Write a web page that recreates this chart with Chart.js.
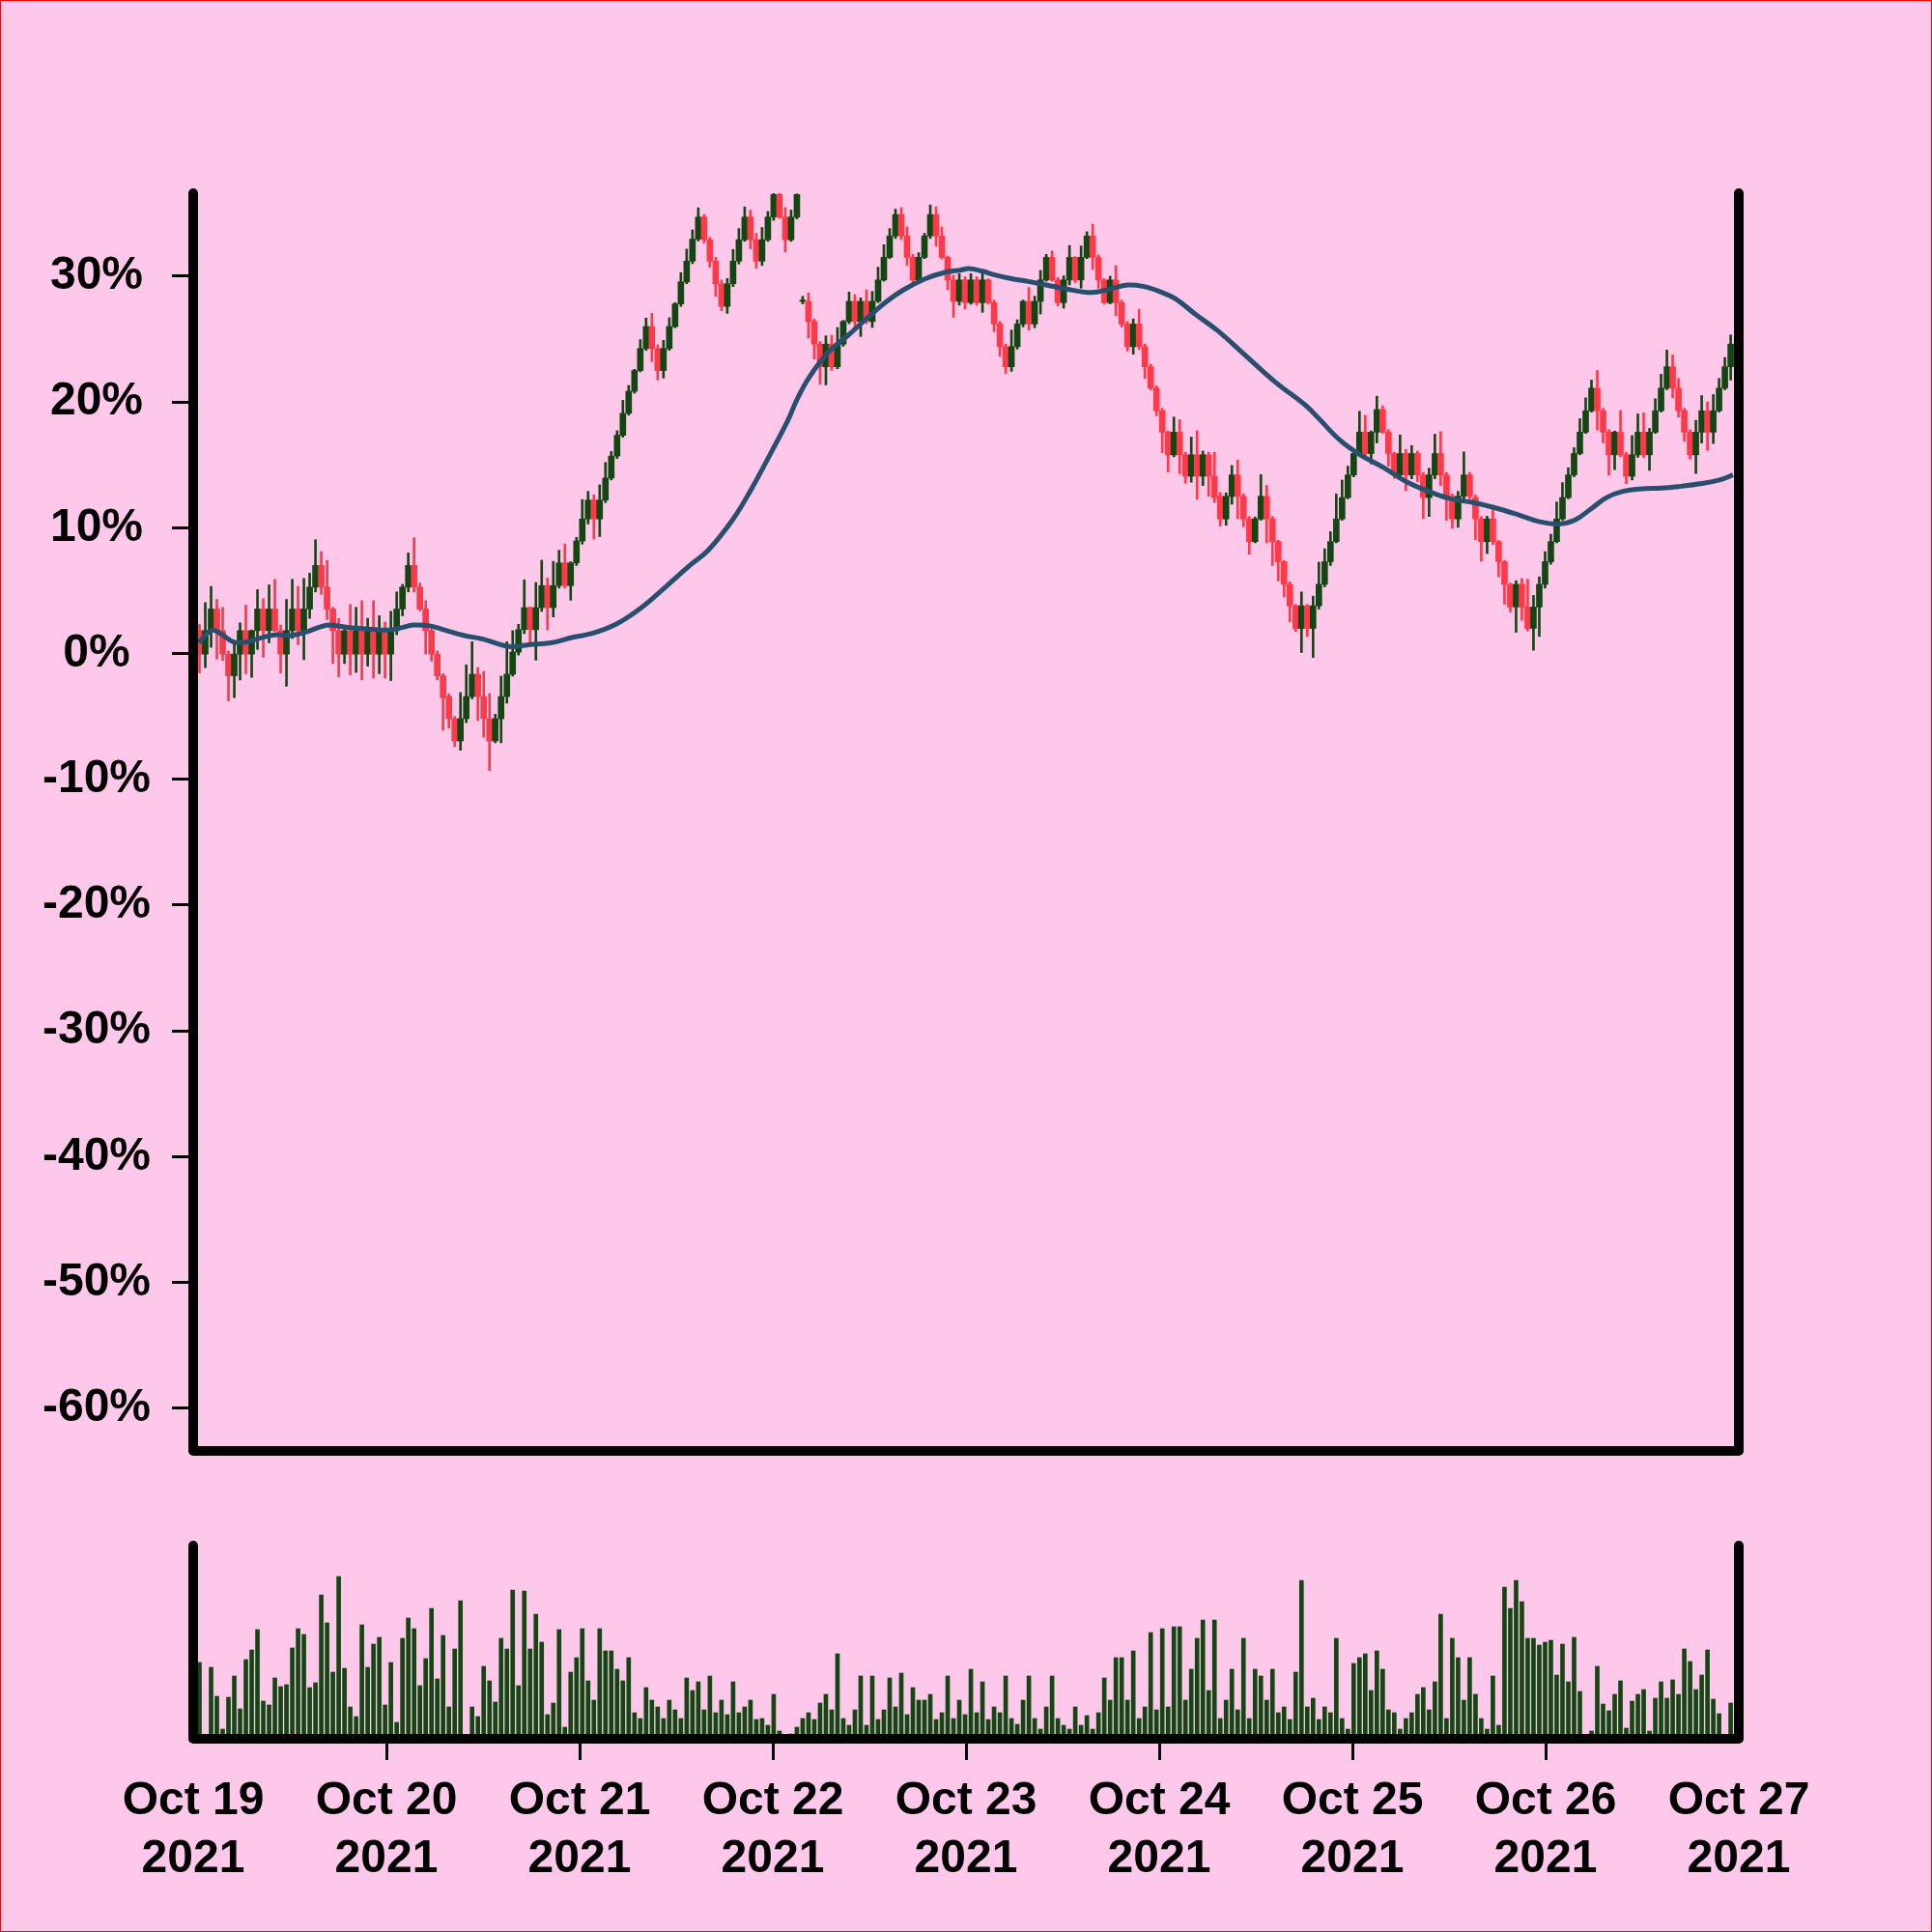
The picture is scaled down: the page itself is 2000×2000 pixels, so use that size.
<!DOCTYPE html>
<html>
<head>
<meta charset="utf-8">
<script src="https://cdn.jsdelivr.net/npm/chart.js@4.4.0/dist/chart.umd.min.js"></script>
<style>
  html, body { margin: 0; padding: 0; background: #fdc8e9; }
  #frame { position: relative; width: 2000px; height: 2000px; background: #fdc8e9; overflow: hidden; }
  #frame canvas { position: absolute; left: 0; }
  #price { top: 0; }
  #volume { top: 1560px; }
  #edge { position: absolute; left: 0; top: 0; width: 2000px; height: 2000px; box-sizing: border-box; border: 1px solid #ff0000; pointer-events: none; }
</style>
</head>
<body>
<div id="frame">
  <canvas id="price" width="2000" height="1554"></canvas>
  <canvas id="volume" width="2000" height="440"></canvas>
  <div id="edge"></div>
</div>
<script>
// candles, % change since start
const opens = [
  1.82, -0.05, 1.82, 3.54, 1.82, -0.05, -1.77, -0.05, 1.82, -0.05,
  1.82, 3.54, 1.82, 3.54, 1.82, -0.05, 1.82, 3.54, 1.82, 3.54,
  5.28, 7.0, 5.28, 3.54, 1.82, -0.05, 1.82, -0.05, 1.82, -0.05,
  1.82, -0.05, 1.82, -0.05, 1.82, 3.54, 5.28, 7.0, 5.28, 3.54,
  1.82, -0.05, -1.77, -3.42, -5.18, -6.95, -5.18, -3.42, -1.65, -3.42,
  -5.18, -6.95, -5.18, -3.42, -1.65, 0.11, 1.9, 3.65, 1.9, 3.65,
  5.4, 3.65, 5.4, 7.2, 5.4, 7.2, 8.95, 10.7, 12.2, 10.7,
  12.2, 13.95, 15.7, 17.35, 19.1, 20.85, 22.5, 24.25, 26.0, 24.25,
  22.5, 24.25, 26.0, 27.8, 29.55, 31.2, 32.95, 34.7, 32.9, 31.2,
  29.4, 27.6, 29.4, 31.2, 32.9, 34.7, 32.9, 31.2, 32.9, 34.7,
  36.5, 34.7, 32.9, 34.7, 28.0, 28.0, 26.4, 24.6, 22.8, 24.6,
  22.8, 24.6, 26.4, 28.0, 26.4, 28.0, 26.4, 28.0, 29.7, 31.5,
  33.2, 34.9, 33.2, 31.5, 29.7, 31.5, 33.2, 34.9, 33.2, 31.5,
  29.7, 28.0, 29.7, 27.9, 29.7, 27.9, 29.7, 27.9, 26.2, 24.4,
  22.8, 24.4, 26.2, 28.0, 26.2, 28.0, 29.7, 31.5, 29.7, 27.9,
  29.7, 31.5, 29.7, 31.5, 33.2, 31.5, 29.7, 27.9, 29.7, 27.9,
  26.2, 24.4, 26.2, 24.4, 22.8, 21.1, 19.3, 17.6, 15.8, 17.6,
  15.8, 14.1, 15.8, 14.1, 15.8, 14.1, 12.5, 10.7, 12.5, 14.2,
  12.5, 10.7, 8.9, 10.7, 12.5, 10.7, 8.9, 7.3, 5.5, 3.8,
  2.0, 3.8, 2.0, 3.8, 5.5, 7.3, 8.9, 10.7, 12.4, 14.2,
  15.9, 17.6, 15.9, 17.6, 19.4, 17.6, 15.9, 14.2, 15.9, 14.2,
  15.9, 14.2, 12.4, 14.2, 15.9, 14.2, 12.5, 10.7, 12.5, 14.2,
  12.4, 10.7, 8.9, 10.7, 8.9, 7.3, 5.5, 3.7, 5.5, 3.7,
  2.0, 3.7, 5.5, 7.3, 8.9, 10.7, 12.4, 14.2, 15.9, 17.6,
  19.3, 21.1, 19.3, 17.6, 15.8, 17.6, 15.8, 14.1, 15.8, 17.6,
  15.8, 17.6, 19.3, 21.1, 22.8, 21.1, 19.3, 17.6, 15.8, 17.6,
  19.3, 17.6, 19.3, 21.1, 22.8
];
const highs = [
  2.31, 4.05, 5.33, 4.3, 3.67, 0.2, 0.72, 2.44, 3.85, 1.87,
  5.08, 4.36, 5.46, 5.9, 2.26, 4.3, 5.9, 5.33, 5.97, 6.4,
  9.05, 8.1, 7.4, 3.67, 2.8, 2.0, 3.9, 3.67, 4.2, 2.8,
  4.2, 3.0, 2.5, 3.36, 4.9, 5.5, 8.0, 9.2, 5.6, 4.2,
  2.3, 0.2, -1.6, -3.2, -5.0, -3.1, -0.9, 0.94, -1.12, -1.42,
  -3.18, -4.83, -1.8, 0.94, 1.82, 2.32, 5.86, 3.7, 5.65, 7.42,
  6.0, 7.33, 8.21, 8.71, 7.3, 9.24, 12.24, 12.89, 12.63, 13.42,
  15.19, 16.07, 17.72, 20.13, 21.31, 22.6, 24.96, 26.67, 27.05, 24.55,
  24.9, 26.7, 27.9, 30.29, 32.15, 33.68, 35.44, 34.9, 33.1, 31.5,
  29.7, 29.82, 32.13, 33.79, 35.51, 35.26, 33.41, 33.87, 35.15, 36.6,
  36.7, 35.46, 35.26, 36.54, 28.4, 28.67, 26.6, 24.8, 25.26, 25.3,
  25.92, 26.49, 28.74, 28.54, 28.28, 28.92, 28.79, 30.72, 32.51, 33.79,
  35.33, 35.46, 33.92, 31.74, 31.87, 33.41, 35.67, 35.51, 33.9, 31.6,
  30.08, 30.2, 29.95, 30.2, 29.95, 30.2, 29.8, 28.1, 26.4, 24.6,
  25.72, 26.54, 28.1, 29.1, 28.41, 30.46, 31.74, 32.0, 29.9, 30.03,
  32.44, 31.56, 32.4, 33.54, 34.13, 31.7, 29.8, 30.0, 30.85, 28.1,
  26.4, 26.6, 27.38, 24.6, 23.0, 21.3, 19.5, 17.7, 18.8, 18.59,
  16.0, 17.21, 17.72, 16.1, 16.0, 16.0, 12.8, 12.77, 14.95, 15.38,
  12.7, 10.9, 10.85, 14.23, 13.36, 10.9, 9.0, 7.4, 5.7, 3.9,
  4.9, 3.9, 4.56, 7.26, 8.33, 9.69, 12.69, 13.79, 14.9, 16.1,
  19.26, 18.92, 17.7, 20.46, 19.69, 17.8, 16.0, 17.38, 16.23, 16.54,
  16.1, 14.4, 14.74, 17.44, 17.64, 14.4, 12.7, 12.9, 16.03, 14.4,
  12.6, 10.9, 10.92, 11.44, 9.0, 7.4, 5.6, 5.79, 5.97, 5.9,
  4.62, 6.1, 8.1, 9.49, 12.05, 13.59, 14.77, 16.36, 18.67, 20.33,
  21.74, 22.51, 19.5, 17.8, 17.69, 19.31, 16.0, 17.33, 19.05, 19.13,
  17.9, 20.26, 22.21, 24.13, 23.74, 21.87, 19.5, 17.8, 18.54, 20.51,
  20.0, 20.59, 21.87, 23.54, 25.33
];
const lows = [
  -1.54, -1.13, 0.5, -0.44, -0.56, -3.77, -3.51, -2.1, -1.6, -1.9,
  0.33, -0.3, 0.85, 1.74, -1.54, -2.6, 1.2, 0.7, -0.5, 2.8,
  4.9, 4.7, 2.7, -0.8, -1.85, -0.8, -1.7, -1.5, -2.1, -1.0,
  -1.95, -1.6, -1.95, -2.15, 1.5, 3.0, 4.9, 4.9, 3.4, -0.05,
  -0.6, -2.1, -6.1, -5.92, -7.39, -7.69, -5.5, -3.6, -5.33, -6.66,
  -9.3, -7.1, -7.1, -3.95, -1.8, -0.12, 1.58, 0.85, -0.53, 3.35,
  1.88, 2.91, 5.2, 5.2, 4.24, 7.0, 8.7, 10.3, 9.1, 9.3,
  12.0, 13.8, 15.5, 17.2, 18.95, 20.7, 22.4, 24.1, 23.22, 21.75,
  21.9, 24.1, 25.9, 27.6, 29.4, 31.0, 32.8, 32.64, 30.72, 28.41,
  27.26, 27.05, 29.18, 30.97, 32.77, 32.18, 30.64, 30.85, 32.77, 34.44,
  34.6, 31.92, 32.77, 34.56, 27.8, 25.08, 23.41, 21.41, 21.36, 22.51,
  22.64, 24.44, 26.23, 25.72, 25.21, 26.23, 25.92, 27.9, 29.6, 31.4,
  33.0, 32.9, 30.85, 29.3, 29.6, 31.4, 33.0, 32.38, 31.36, 28.92,
  26.74, 27.7, 27.38, 27.77, 27.7, 27.13, 27.8, 25.59, 23.62, 22.26,
  22.44, 24.2, 25.97, 25.72, 25.9, 27.0, 29.6, 29.6, 27.64, 27.46,
  29.31, 29.5, 29.05, 31.4, 30.54, 29.05, 27.8, 27.8, 26.87, 25.97,
  24.05, 23.79, 24.18, 21.87, 20.97, 18.9, 15.97, 14.44, 15.64, 14.3,
  13.54, 13.62, 12.26, 13.36, 12.51, 12.0, 10.13, 10.2, 11.87, 10.72,
  10.08, 7.9, 8.8, 10.6, 8.79, 7.0, 5.77, 4.49, 2.51, 1.74,
  0.08, 1.36, -0.31, 3.54, 5.3, 7.0, 8.8, 10.6, 12.3, 14.05,
  15.7, 15.46, 15.08, 16.74, 17.51, 14.9, 13.92, 13.9, 12.95, 13.9,
  13.67, 10.72, 10.9, 13.9, 13.36, 10.59, 9.95, 10.03, 12.26, 12.3,
  9.05, 7.33, 7.95, 8.67, 6.1, 3.92, 3.3, 1.69, 2.64, 1.79,
  0.26, 1.36, 5.2, 7.1, 8.8, 10.6, 12.3, 14.05, 15.8, 17.5,
  19.2, 17.77, 16.74, 14.18, 14.62, 15.64, 13.49, 13.8, 15.6, 15.59,
  14.56, 17.5, 19.2, 20.97, 20.33, 18.79, 16.87, 15.46, 14.31, 16.74,
  16.15, 16.7, 19.2, 20.97, 21.74
];
const closes = [
  -0.05, 1.82, 3.54, 1.82, -0.05, -1.77, -0.05, 1.82, -0.05, 1.82,
  3.54, 1.82, 3.54, 1.82, -0.05, 1.82, 3.54, 1.82, 3.54, 5.28,
  7.0, 5.28, 3.54, 1.82, -0.05, 1.82, -0.05, 1.82, -0.05, 1.82,
  -0.05, 1.82, -0.05, 1.82, 3.54, 5.28, 7.0, 5.28, 3.54, 1.82,
  -0.05, -1.77, -3.51, -5.18, -6.95, -5.18, -3.42, -1.65, -3.42, -5.18,
  -6.95, -5.18, -3.42, -1.65, 0.11, 1.9, 3.65, 1.9, 3.65, 5.4,
  3.65, 5.4, 7.2, 5.4, 7.2, 8.95, 10.7, 12.2, 10.7, 12.2,
  13.95, 15.7, 17.35, 19.1, 20.85, 22.5, 24.25, 26.0, 24.25, 22.5,
  24.25, 26.0, 27.8, 29.55, 31.2, 32.95, 34.7, 32.9, 31.2, 29.4,
  27.6, 29.4, 31.2, 32.9, 34.7, 32.9, 31.2, 32.9, 34.7, 36.5,
  34.7, 32.9, 34.7, 36.5, 28.1, 26.4, 24.6, 22.8, 24.6, 22.8,
  24.6, 26.4, 28.0, 26.4, 28.0, 26.4, 28.0, 29.7, 31.5, 33.2,
  34.9, 33.2, 31.5, 29.7, 31.5, 33.2, 34.9, 33.2, 31.5, 29.7,
  28.0, 29.7, 27.9, 29.7, 27.9, 29.7, 27.9, 26.2, 24.4, 22.8,
  24.4, 26.2, 28.0, 26.2, 28.0, 29.7, 31.5, 29.7, 27.9, 29.7,
  31.5, 29.7, 31.5, 33.2, 31.5, 29.7, 27.9, 29.7, 27.9, 26.2,
  24.4, 26.2, 24.4, 22.8, 21.1, 19.3, 17.6, 15.8, 17.6, 15.8,
  14.1, 15.8, 14.1, 15.8, 14.1, 12.4, 10.7, 12.5, 14.2, 12.5,
  10.7, 8.9, 10.7, 12.5, 10.7, 8.9, 7.3, 5.5, 3.8, 2.0,
  3.8, 2.0, 3.8, 5.5, 7.3, 8.9, 10.7, 12.4, 14.2, 15.9,
  17.6, 15.9, 17.6, 19.4, 17.6, 15.9, 14.2, 15.9, 14.2, 15.9,
  14.2, 12.4, 14.2, 15.9, 14.2, 12.5, 10.7, 12.5, 14.2, 12.5,
  10.7, 8.9, 10.7, 8.9, 7.3, 5.5, 3.7, 5.5, 3.7, 2.0,
  3.7, 5.5, 7.3, 8.9, 10.7, 12.4, 14.2, 15.9, 17.6, 19.3,
  21.1, 19.3, 17.6, 15.8, 17.6, 15.8, 14.1, 15.8, 17.6, 15.8,
  17.6, 19.3, 21.1, 22.8, 21.1, 19.3, 17.6, 15.8, 17.6, 19.3,
  17.6, 19.3, 21.1, 22.8, 24.6
];
// traded volume per candle (relative units)
const volumes = [
  79, 0, 74, 44, 10, 43, 65, 31, 82, 92, 113, 39, 35, 63, 54, 56, 94, 114, 108, 53,
  58, 149, 120, 69, 168, 73, 33, 23, 118, 74, 98, 105, 35, 79, 17, 104, 125, 114, 55, 83,
  135, 62, 107, 33, 93, 143, 0, 33, 23, 75, 60, 38, 104, 93, 154, 55, 153, 93, 129, 100,
  25, 37, 113, 12, 69,
  84, 114, 60, 40, 114, 91, 91, 72, 60, 84, 27, 21, 53, 40, 33, 21, 40, 30, 21, 63,
  50, 59, 30, 65, 27, 40, 25, 59, 27, 33, 40, 20, 21, 14, 46, 8, 0, 5, 12, 21,
  27, 20, 37, 46, 30, 88, 21, 14, 30, 65, 14, 65, 20, 30, 63, 33, 68, 25, 53, 40,
  40, 46, 20, 27, 65, 21, 40, 25, 72, 27, 59, 20, 33, 27, 65, 21, 15, 40, 65, 21,
  10, 33, 65, 21, 14, 10, 33, 14, 24, 10, 27, 63, 40, 84, 84, 40, 91, 21, 33, 110,
  30, 114, 33, 116, 116, 40, 72, 104, 123, 50, 123, 21, 40, 72, 30, 104, 21, 72, 65, 40,
  72, 27, 33, 20, 69, 164, 33, 42, 20, 33, 27, 104, 21, 10, 78, 84, 88, 50, 91, 72,
  30, 27, 10, 21, 27, 46, 53, 30, 59, 129, 21, 104, 84, 40, 84, 46, 21, 10, 65, 14,
  157, 135, 164, 142, 104, 104, 97, 100,
  102, 66, 98, 59, 105, 49, 0, 8, 75, 36, 29, 46, 60, 11, 39, 46, 51, 8, 42, 59,
  42, 61, 46, 93, 80, 51, 66, 92, 41, 26, 0, 37
];
// moving average line, sampled along the curve (hours since Oct 19 00:00, %)
const maHours = [
  0.72, 1.56, 2.4, 3.36, 5.04, 6.6, 8.64, 10.2, 12.24, 14.16, 15.84, 17.04, 19.44, 21.84,
  24.24, 25.8, 27.36, 29.4, 31.2, 33.6, 36, 39.24, 41.64, 44.4, 47.16, 49.56, 52.56, 55.56,
  58.68, 61.68, 63.96, 67.08, 69.36, 71.64, 73.92, 75, 76.56, 78.96, 81.36, 83.76, 86.16,
  88.2, 90.96, 93.36, 95.4, 96.36, 98.04, 99.6, 101.64, 103.56, 105.96, 108.36, 111.6, 114,
  116.04, 117.96, 120, 122.04, 124.44, 127.2, 130.2, 134.4, 138.24, 139.8, 142.56, 144.96,
  147.84, 150.6, 153.84, 156.24, 159, 161.64, 164.76, 167.16, 169.56, 171.6, 173.64, 175.56,
  177.6, 180, 182.4, 184.8, 187.2, 189.6, 191.28
];
const maValues = [
  0.85, 1.5, 1.87, 1.6, 0.92, 0.92, 1.28, 1.49, 1.44, 1.74, 2.13, 2.26, 2.05, 1.95,
  1.87, 2.05, 2.26, 2.2, 1.88, 1.44, 1.15, 0.56, 0.7, 0.85, 1.29, 1.6, 2.35, 3.6,
  5.3, 7.0, 8.2, 10.7, 13.1, 15.8, 18.6, 20.2, 22.0, 24.0, 25.3, 26.7, 28.0,
  28.9, 29.8, 30.3, 30.5, 30.6, 30.4, 30.1, 29.8, 29.6, 29.3, 29.0, 28.7, 29.0,
  29.3, 29.2, 28.8, 28.2, 27.0, 25.7, 24.0, 21.6, 19.7, 18.7, 16.9, 15.8,
  14.8, 13.7, 12.8, 12.3, 12.0, 11.6, 11.0, 10.5, 10.3, 10.6, 11.5, 12.4,
  12.9, 13.1, 13.15, 13.3, 13.5, 13.8, 14.2
];
const dayLabels = [
  ['Oct 19', '2021'], ['Oct 20', '2021'], ['Oct 21', '2021'], ['Oct 22', '2021'], ['Oct 23', '2021'],
  ['Oct 24', '2021'], ['Oct 25', '2021'], ['Oct 26', '2021'], ['Oct 27', '2021']
];
const yTicks = [-60, -50, -40, -30, -20, -10, 0, 10, 20, 30];

// candle timestamps: hours since Oct 19 00:00
const FIRST_HOUR = 0.78;
const STEP_HOURS = 0.7205;
const hours = opens.map((_, i) => FIRST_HOUR + i * STEP_HOURS);

const UP = '#144614';
const DOWN = '#fd3a4a';
const MA_COLOR = '#28506e';
const labelFont = { family: 'Liberation Sans', weight: 'bold', size: 48, lineHeight: 1.25 };

const candleColor = hours.map((_, i) => closes[i] >= opens[i] ? UP : DOWN);

// black frame lines: left, bottom, right (no top)
const spines = {
  id: 'spines',
  afterDraw(chart) {
    const { ctx, chartArea: a } = chart;
    ctx.save();
    ctx.strokeStyle = '#000';
    ctx.lineWidth = 10;
    ctx.lineCap = 'round';
    ctx.lineJoin = 'round';
    ctx.beginPath();
    ctx.moveTo(a.left, a.top);
    ctx.lineTo(a.left, a.bottom);
    ctx.lineTo(a.right, a.bottom);
    ctx.lineTo(a.right, a.top);
    ctx.stroke();
    ctx.restore();
  }
};

new Chart(document.getElementById('price'), {
  type: 'bar',
  data: {
    datasets: [
      {
        type: 'line',
        data: maHours.map((h, i) => ({ x: h, y: maValues[i] })),
        borderColor: MA_COLOR,
        borderWidth: 5,
        pointRadius: 0,
        tension: 0.4,
        order: 0
      },
      {
        data: hours.map((h, i) => ({ x: h, y: [opens[i], closes[i]] })),
        backgroundColor: candleColor,
        barThickness: 6,
        grouped: false,
        order: 1
      },
      {
        data: hours.map((h, i) => ({ x: h, y: [lows[i], highs[i]] })),
        backgroundColor: candleColor,
        barThickness: 2,
        grouped: false,
        order: 2
      }
    ]
  },
  options: {
    responsive: false,
    animation: false,
    layout: { autoPadding: false, padding: { top: 200, right: 200, bottom: 18, left: 0 } },
    plugins: { legend: { display: false }, tooltip: { enabled: false } },
    scales: {
      x: { type: 'linear', min: 0, max: 192, offset: false, display: false },
      y: {
        min: -63.4,
        max: 36.6,
        afterBuildTicks: ax => { ax.ticks = yTicks.map(v => ({ value: v })); },
        afterFit: ax => { ax.width = 200; },
        border: { display: false },
        grid: { drawOnChartArea: false, drawTicks: true, tickLength: 22, tickWidth: 3, tickColor: '#000' },
        ticks: { color: '#000', font: labelFont, padding: 22, crossAlign: 'center', callback: v => v + '%' }
      }
    }
  },
  plugins: [spines]
});

new Chart(document.getElementById('volume'), {
  type: 'bar',
  data: {
    datasets: [{
      data: hours.map((h, i) => ({ x: h, y: volumes[i] })),
      backgroundColor: UP,
      barThickness: 4
    }]
  },
  options: {
    responsive: false,
    animation: false,
    layout: { autoPadding: false, padding: { top: 40, right: 200, bottom: 0, left: 200 } },
    plugins: { legend: { display: false }, tooltip: { enabled: false } },
    scales: {
      x: {
        type: 'linear',
        min: 0,
        max: 192,
        offset: false,
        afterBuildTicks: ax => { ax.ticks = dayLabels.map((_, i) => ({ value: i * 24 })); },
        afterFit: ax => { ax.height = 200; },
        border: { display: false },
        grid: {
          offset: false, drawOnChartArea: false, drawTicks: true, tickLength: 22, tickWidth: 3,
          tickColor: c => (c.index === 0 || c.index === dayLabels.length - 1) ? 'rgba(0,0,0,0)' : '#000'
        },
        ticks: {
          color: '#000', font: labelFont, padding: 13, autoSkip: false, maxRotation: 0,
          callback: v => dayLabels[Math.round(v / 24)]
        }
      },
      y: { display: false, min: 0, max: 200 }
    }
  },
  plugins: [spines]
});
</script>
</body>
</html>
